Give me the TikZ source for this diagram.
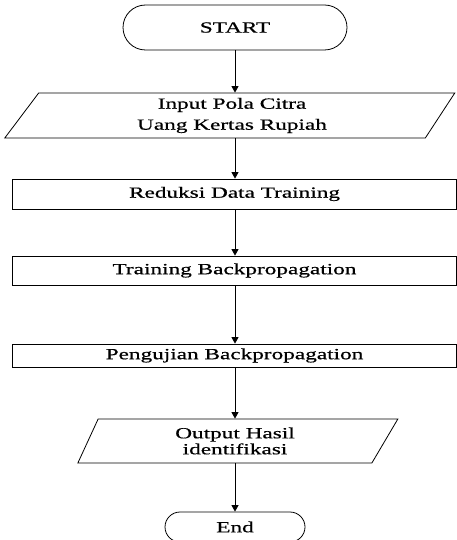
\documentclass[tikz,border=0pt]{standalone}
\usepackage{fontspec}
\setmainfont{Liberation Serif}[FakeStretch=1.5, FakeBold=0.6]
\usetikzlibrary{arrows.meta,shapes.geometric,shapes.misc}

\begin{document}
\begin{tikzpicture}[
		x=1pt, y=-1pt,
		font=\fontsize{15.5}{21}\selectfont,
		line width=0.8pt,
		-{Triangle[length=6.5pt, width=7pt]},
		TermStyle/.style={draw, rounded rectangle, inner sep=0pt},
		IOStyle/.style={draw, trapezium, trapezium stretches body,
			align=center, inner sep=0pt},
		ProcStyle/.style={draw, rectangle, minimum width=444, inner sep=0pt},
		]
		\useasboundingbox (0,0) rectangle (457,540);
		\node [TermStyle, minimum width=224, minimum height=45] (start) at (235,27.5) {START};
		\node [IOStyle, minimum width=450, minimum height=45,
			trapezium left angle=46, trapezium right angle=130] (input) at (232,115.5)
			{Input Pola Citra\\Uang Kertas Rupiah};
		\node [ProcStyle, minimum height=30] (reduksi) at (234.5,194) {Reduksi Data Training};
		\node [ProcStyle, minimum height=29] (training) at (234.5,270.5) {Training Backpropagation};
		\node [ProcStyle, minimum height=23] (uji) at (234.5,355.5) {Pengujian Backpropagation};
		\node [IOStyle, minimum width=320, minimum height=44,
			font=\fontsize{15.5}{16}\selectfont,
			trapezium left angle=53, trapezium right angle=134] (output) at (235,441)
			{Output Hasil\\identifikasi};
		\node [TermStyle, minimum width=140, minimum height=30] (end) at (235,527) {End};
		
		\draw (start.south) -- (start.south |- input.north);
		\draw (input.south -| start) -- (reduksi.north -| start);
		\draw (reduksi.south -| start) -- (training.north -| start);
		\draw (training.south -| start) -- (uji.north -| start);
		\draw (uji.south -| start) -- (output.north -| start);
		\draw (output.south -| start) -- (end.north -| start);
		
\end{tikzpicture}
\end{document}
